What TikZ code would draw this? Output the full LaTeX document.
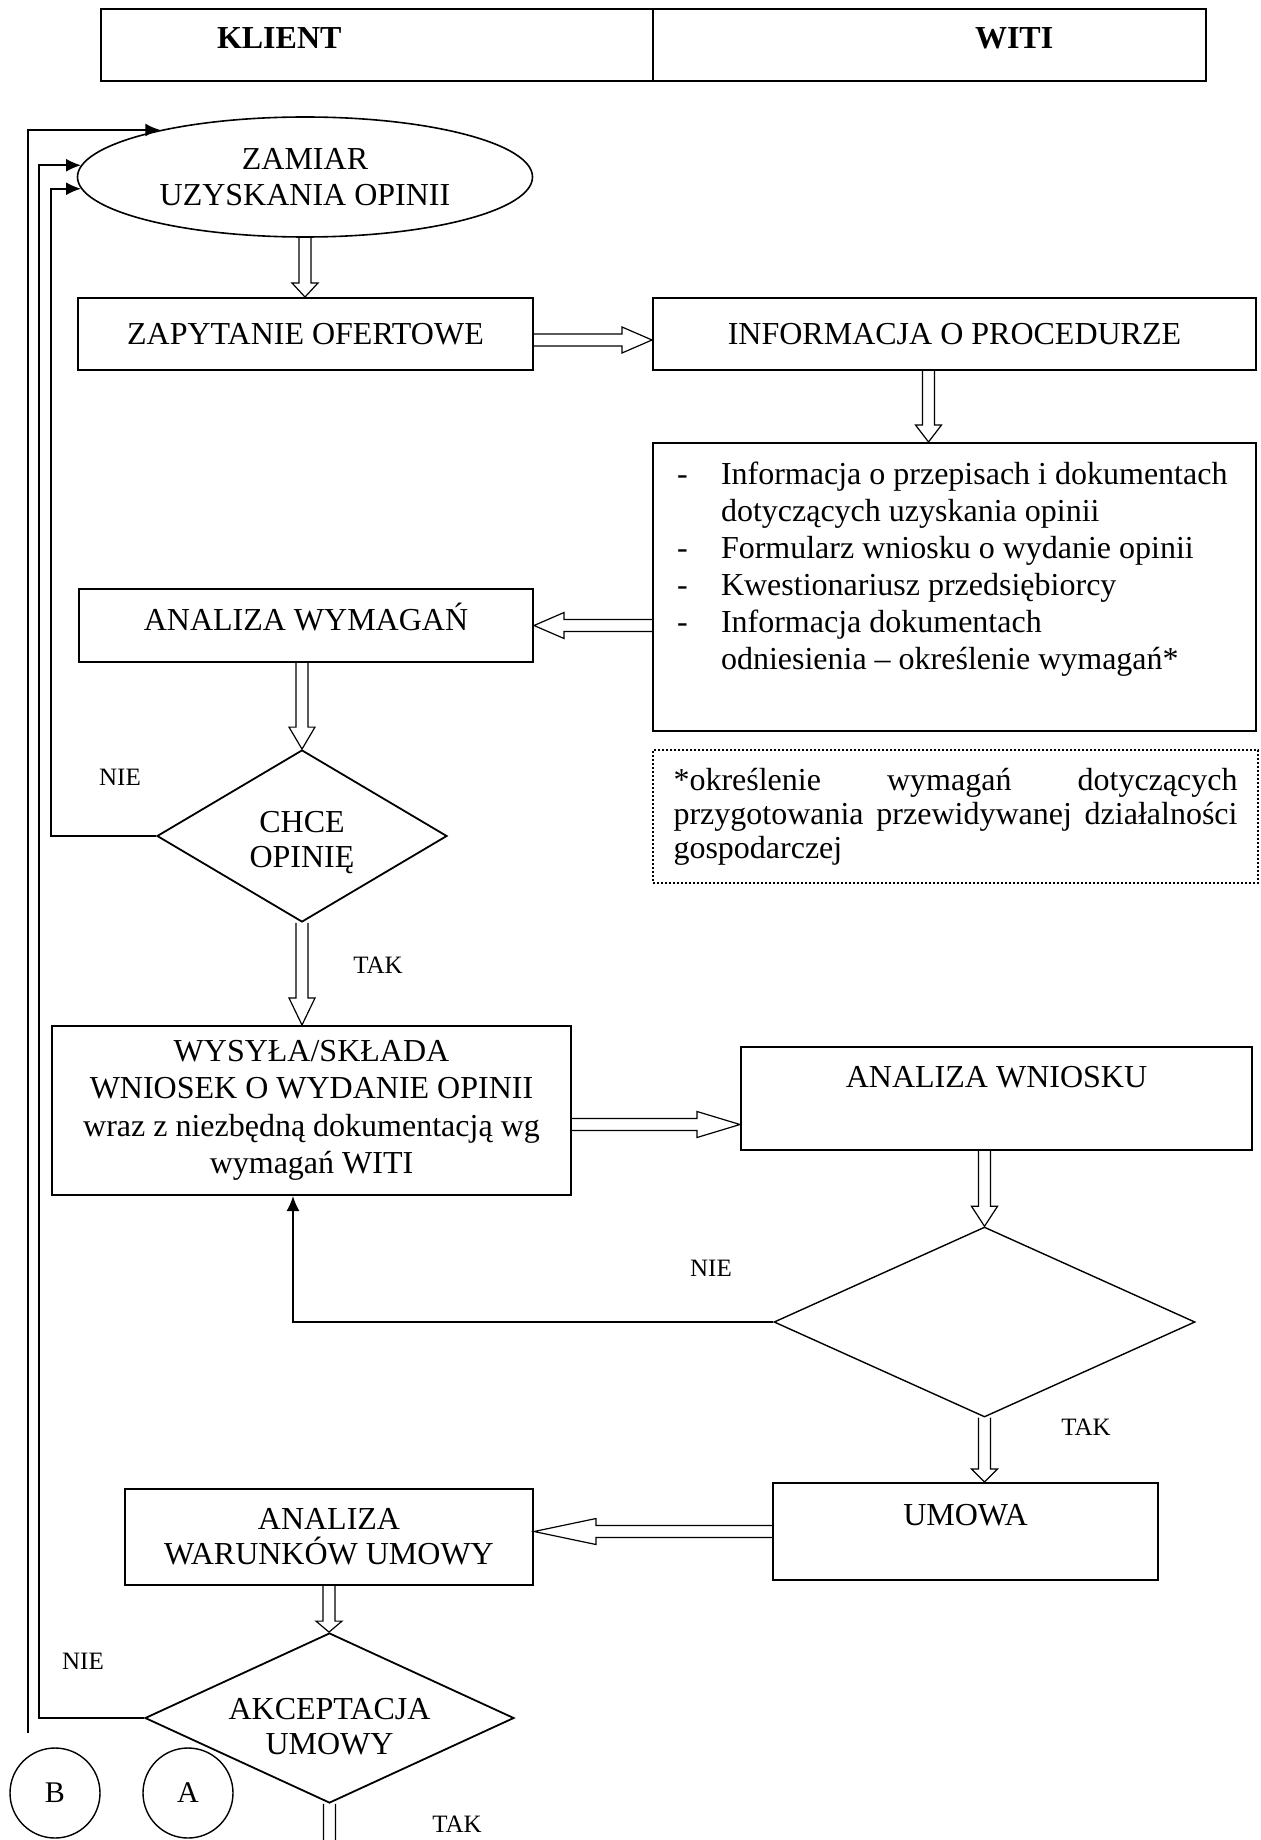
\documentclass[tikz,border=0pt]{standalone}
\usepackage{fontspec}
\setmainfont{Liberation Serif}
\usepackage{tikz}
\usetikzlibrary{calc,shapes.geometric,arrows.meta}

\tikzset{
  box/.style={draw, line width=1pt, inner sep=0pt, align=center,
    font=\fontsize{16}{18}\selectfont},
  hdr/.style={box, text height=10.6pt, text depth=7pt},
  toptext/.style={text height=10.6pt, text depth=#1},
  decision/.style={draw, diamond, line width=0.9pt, inner sep=0pt, align=center,
    font=\fontsize{16}{17.5}\selectfont},
  ans/.style={font=\fontsize{12.5}{14}\selectfont},
  conn/.style={line width=0.8pt, -{Latex[length=7.5pt,width=6.5pt]}},
  hollow/.style={to path={
    let \p1=($(\tikztotarget)-(\tikztostart)$),
        \n1={atan2(\y1,\x1)},
        \n2={veclen(\x1,\y1)-#1*0.5} in
    ($(\tikztostart)+(\n1+90:3pt)$) -- ++(\n1:\n2*1pt) -- ++(\n1+90:3.5pt)
    -- (\tikztotarget)
    -- ($(\tikztotarget)+(\n1+180:#1*0.5pt)+(\n1-90:6.5pt)$) -- ++(\n1+90:3.5pt)
    -- ($(\tikztostart)+(\n1-90:3pt)$) \tikztonodes}},
  hollow/.default=20
}

\begin{document}
\begin{tikzpicture}[x=0.5pt, y=-0.5pt, line join=miter]
  \clip (0,0) rectangle (1260,1840);

  % naglowek
  \node[hdr, minimum width=276pt, minimum height=36pt] (klient) at (377,45)
    {\makebox[276pt][l]{\hspace*{58pt}\textbf{KLIENT}}};
  \node[hdr, minimum width=276.5pt, minimum height=36pt] (witi) at (929.5,45)
    {\makebox[276.5pt][l]{\hspace*{161pt}\textbf{WITI}}};

  % klient
  \node[box, ellipse, line width=0.8pt, minimum width=227.5pt, minimum height=60pt]
    (zamiar) at (305,177) {ZAMIAR\\UZYSKANIA OPINII};
  \node[box, minimum width=227.5pt, minimum height=36pt] (zapyt) at (305.5,334)
    {ZAPYTANIE OFERTOWE};
  \node[box, toptext=5.5pt, minimum width=227pt, minimum height=36.5pt] (wymag) at (306,625.5)
    {ANALIZA WYMAGAŃ};
  \node[decision, aspect=1.69, minimum width=145pt, minimum height=86pt] (chce) at (302,836)
    {\rule{0pt}{17.1pt}CHCE\\OPINIĘ};
  \node[box, font=\fontsize{16}{18.75}\selectfont, minimum width=259.5pt, minimum height=84.5pt]
    (wysyla) at (311.5,1110.5)
    {WYSYŁA/SKŁADA\\WNIOSEK O WYDANIE OPINII\\wraz z niezbędną dokumentacją wg\\wymagań WITI};
  \node[box, font=\fontsize{16}{17.5}\selectfont, minimum width=204pt, minimum height=48pt]
    (warunki) at (329,1537) {ANALIZA\\WARUNKÓW UMOWY};
  \node[decision, aspect=2.17, minimum width=184.5pt, minimum height=85pt] (akcept) at (329.5,1718)
    {\rule{0pt}{19.6pt}AKCEPTACJA\\UMOWY};
  \node[draw, circle, line width=0.7pt, minimum size=45pt, inner sep=0pt,
    font=\fontsize{15}{18}\selectfont] (polB) at (55,1793) {B};
  \node[draw, circle, line width=0.7pt, minimum size=45pt, inner sep=0pt,
    font=\fontsize{15}{18}\selectfont] (polA) at (188,1793) {A};

  % witi
  \node[box, minimum width=301.5pt, minimum height=36pt] (info) at (954.5,334)
    {INFORMACJA O PROCEDURZE};
  \node[box, minimum width=301.5pt, minimum height=144pt] (lista) at (954.5,587)
    {\parbox[c][144pt][t]{301.5pt}{\fontsize{16}{18.5}\selectfont\raggedright
      \vspace*{9.4pt}%
      \hspace*{12pt}\makebox[22pt][l]{-}Informacja o przepisach i dokumentach\\
      \hspace*{34pt}dotyczących uzyskania opinii\\
      \hspace*{12pt}\makebox[22pt][l]{-}Formularz wniosku o wydanie opinii\\
      \hspace*{12pt}\makebox[22pt][l]{-}Kwestionariusz przedsiębiorcy\\
      \hspace*{12pt}\makebox[22pt][l]{-}Informacja dokumentach\\
      \hspace*{34pt}odniesienia – określenie wymagań*}};
  \node[box, line width=1.2pt, dash pattern=on 1pt off 1pt, minimum width=302.5pt,
    minimum height=66.5pt] (uwaga) at (955.5,816.5)
    {\parbox{282pt}{\fontsize{16}{17}\selectfont
      *określenie\hfill wymagań\hfill dotyczących\\
      przygotowania\hfill przewidywanej\hfill działalności\\
      gospodarczej}};
  \node[box, toptext=21.5pt, minimum width=255.5pt, minimum height=51.5pt] (wniosek)
    at (996.5,1098.5) {ANALIZA WNIOSKU};
  \node[decision, line width=0.7pt, aspect=2.2, minimum width=210.5pt, minimum height=95pt]
    (ocena) at (984.5,1322) {};
  \node[box, toptext=16.5pt, minimum width=192.5pt, minimum height=48.5pt] (umowa)
    at (965.5,1531.5) {UMOWA};
  \coordinate (dol) at (329.5,1862);
  \coordinate (polB-in) at (28,1733);

  % odpowiedzi
  \node[ans] (nie1) at (120,777) {NIE};
  \node[ans] (tak1) at (378,965) {TAK};
  \node[ans] (nie2) at (711,1268) {NIE};
  \node[ans] (tak2) at (1086,1427) {TAK};
  \node[ans] (nie3) at (83,1661) {NIE};
  \node[ans] (tak3) at (457,1824) {TAK};

  % przejscia
  \draw[line width=0.6pt]
    (zamiar.south) to[hollow=14] (zamiar.south |- zapyt.north)
    ([yshift=-3pt]zapyt.east) to[hollow=30] ([yshift=-3pt]info.west)
    ([xshift=-13pt]info.south) to[hollow=17] ([xshift=-13pt]lista.north)
    (wymag.east -| lista.west) to[hollow=30] (wymag.east)
    (chce.north |- wymag.south) to[hollow=22] (chce.north)
    (chce.south) to[hollow=27] (chce.south |- wysyla.north)
    ($(wysyla.east)+(0,14)$) to[hollow=43] ($(wysyla.east -| wniosek.west)+(0,14)$)
    (ocena.north |- wniosek.south) to[hollow=20] (ocena.north)
    (ocena.south) to[hollow=13] (ocena.south |- umowa.north)
    (umowa.west) to[hollow=62] (umowa.west -| warunki.east)
    (warunki.south) to[hollow=11] (warunki.south |- akcept.north)
    (akcept.south) to[hollow=20] (dol);

  \draw[conn] (polB-in) |- (zamiar.162);
  \draw[conn] (akcept.west) -- ++(-105,0) |- (zamiar.177);
  \draw[conn] (chce.west) -- ++(-105,0) |- (zamiar.183);
  \draw[conn] (ocena.west) -| ([xshift=-9.25pt]wysyla.south);
\end{tikzpicture}
\end{document}
